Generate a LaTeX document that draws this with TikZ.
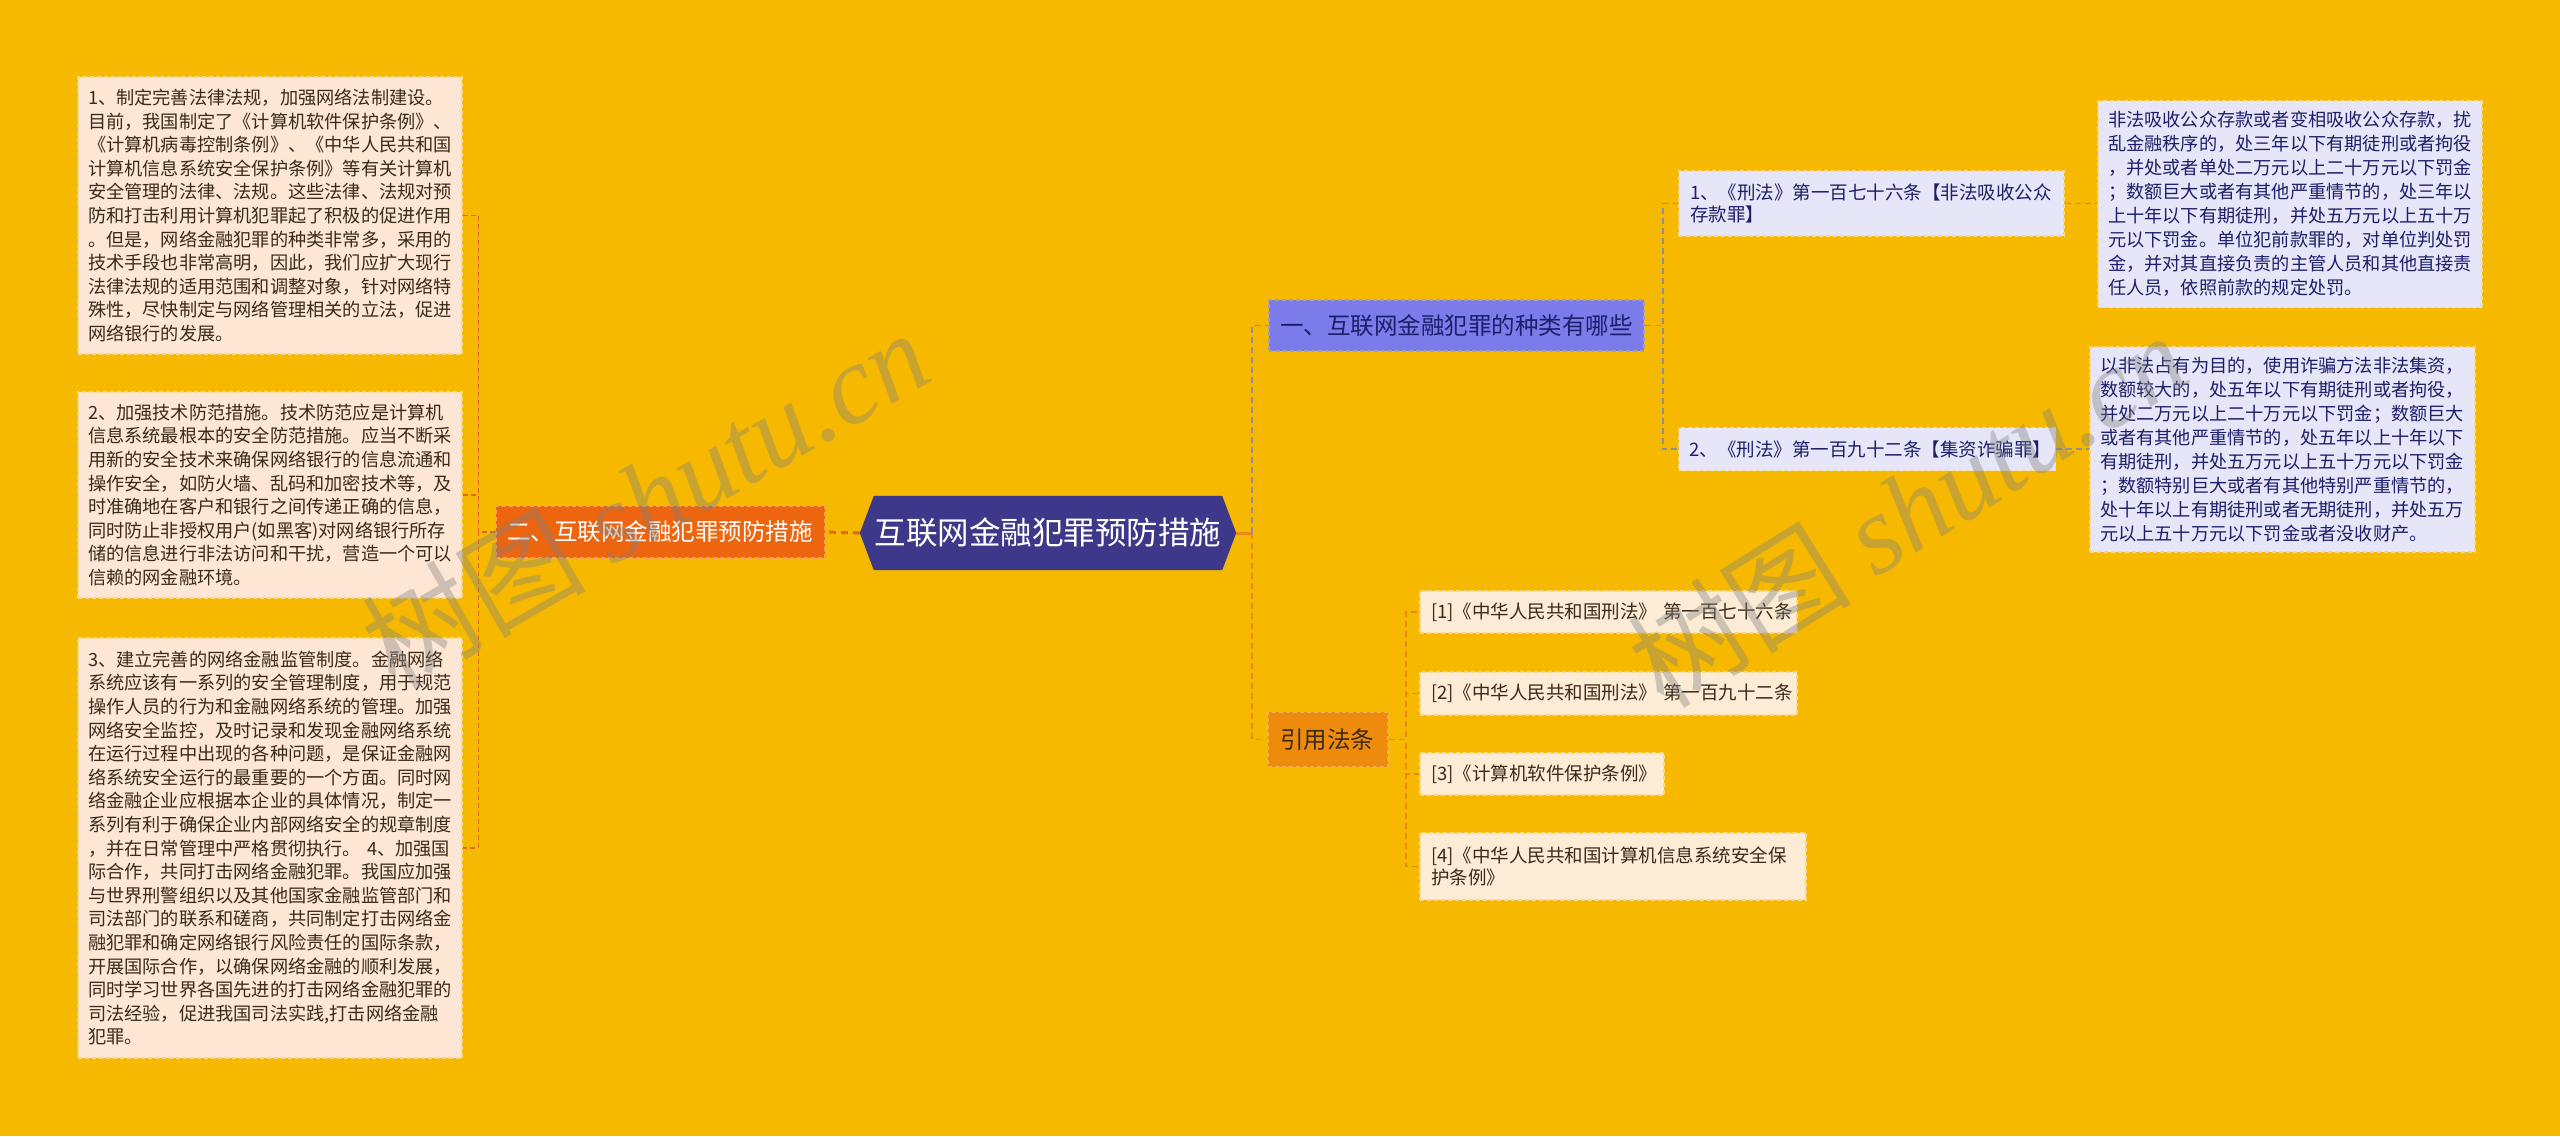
\documentclass[tikz,border=0pt]{standalone}
\usepackage{fontspec}
\setmainfont{Noto Sans CJK SC}
\newfontfamily\wmserif{Liberation Serif}
\usetikzlibrary{backgrounds}
\definecolor{bgc}{HTML}{F6B900}
\definecolor{rootc}{HTML}{3D3889}
\definecolor{lbc}{HTML}{EE650F}
\definecolor{lbline}{HTML}{F7A060}
\definecolor{peach}{HTML}{FDE6D4}
\definecolor{peachline}{HTML}{F8D88C}
\definecolor{browntxt}{HTML}{3A2A18}
\definecolor{bonec}{HTML}{7B7BEA}
\definecolor{boneline}{HTML}{9E9EC8}
\definecolor{lav}{HTML}{E6E6F8}
\definecolor{navytxt}{HTML}{1E1E6A}
\definecolor{yfc}{HTML}{EE8B0C}
\definecolor{yfline}{HTML}{F4AE50}
\definecolor{cream}{HTML}{FCEBD5}
\definecolor{lconnc}{HTML}{E2661C}
\definecolor{gconnc}{HTML}{8E8E9C}
\definecolor{oconnc}{HTML}{E98A18}
\newcommand{\fsText}{\fontsize{18.2pt}{23.6pt}\selectfont}
\newcommand{\fsTextR}{\fontsize{18.2pt}{24pt}\selectfont}
\newcommand{\fsMid}{\fontsize{23.5pt}{26pt}\selectfont}
\newcommand{\fsRoot}{\fontsize{31.5pt}{34pt}\selectfont}
\newcommand{\fsRef}{\fontsize{18.5pt}{22pt}\selectfont}
\begin{document}
\begin{tikzpicture}[x=1pt,y=-1pt,
  boxbase/.style={line width=1.5pt, dash pattern=on 4pt off 3pt, align=left, inner xsep=10pt, inner ysep=3pt, anchor=center},
  lbox/.style={boxbase, draw=peachline, fill=peach, text=browntxt, font=\fsText},
  rbox/.style={boxbase, draw=peachline, fill=lav, text=navytxt, font=\fsTextR},
  cbox/.style={boxbase, draw=peachline, fill=lav, text=navytxt, font=\fsRef, inner xsep=11pt},
  refbox/.style={boxbase, draw=peachline, fill=cream, text=browntxt, font=\fsRef, inner xsep=11pt},
  lbnode/.style={boxbase, draw=lbline, fill=lbc, text=white, font=\fsMid, inner xsep=11pt},
  bonenode/.style={boxbase, draw=boneline, fill=bonec, text=navytxt, font=\fsMid, inner xsep=11pt},
  yfnode/.style={boxbase, draw=yfline, fill=yfc, text=browntxt, font=\fsMid, inner xsep=12pt},
  lconn/.style={draw=lconnc, line width=1.5pt, dash pattern=on 5pt off 3pt},
  gconn/.style={draw=gconnc, line width=1.8pt, dash pattern=on 6pt off 4pt},
  oconn/.style={draw=oconnc, line width=1.8pt, dash pattern=on 6pt off 4pt},
  wm/.style={text=gray, opacity=0.38, font=\fontsize{112pt}{112pt}\selectfont}
]
\useasboundingbox (0,0) rectangle (2560,1136);
\begin{scope}[on background layer]
  \fill[bgc] (0,0) rectangle (2560,1136);
\end{scope}

% root
\node[minimum width=376pt, minimum height=74pt, inner sep=0pt, text=white, font=\fsRoot] (root) at (1048,533) {互联网金融犯罪预防措施};
\begin{scope}[on background layer]
  \fill[rootc] (root.west) -- ([xshift=14pt]root.north west) -- ([xshift=-14pt]root.north east) -- (root.east) -- ([xshift=-14pt]root.south east) -- ([xshift=14pt]root.south west) -- cycle;
\end{scope}

% left branch
\node[lbnode, text width=307pt, minimum height=52pt] (lb) at (660.5,532) {二、互联网金融犯罪预防措施};

\node[lbox, text width=364pt, minimum height=277pt] (t1) at (270,215.5) {1、制定完善法律法规，加强网络法制建设。\\目前，我国制定了《计算机软件保护条例》、\\《计算机病毒控制条例》、《中华人民共和国\\计算机信息系统安全保护条例》等有关计算机\\安全管理的法律、法规。这些法律、法规对预\\防和打击利用计算机犯罪起了积极的促进作用\\。但是，网络金融犯罪的种类非常多，采用的\\技术手段也非常高明，因此，我们应扩大现行\\法律法规的适用范围和调整对象，针对网络特\\殊性，尽快制定与网络管理相关的立法，促进\\网络银行的发展。};

\node[lbox, text width=364pt, minimum height=206pt] (t2) at (270,495) {2、加强技术防范措施。技术防范应是计算机\\信息系统最根本的安全防范措施。应当不断采\\用新的安全技术来确保网络银行的信息流通和\\操作安全，如防火墙、乱码和加密技术等，及\\时准确地在客户和银行之间传递正确的信息，\\同时防止非授权用户(如黑客)对网络银行所存\\储的信息进行非法访问和干扰，营造一个可以\\信赖的网金融环境。};

\node[lbox, text width=364pt, minimum height=420pt] (t3) at (270,848) {3、建立完善的网络金融监管制度。金融网络\\系统应该有一系列的安全管理制度，用于规范\\操作人员的行为和金融网络系统的管理。加强\\网络安全监控，及时记录和发现金融网络系统\\在运行过程中出现的各种问题，是保证金融网\\络系统安全运行的最重要的一个方面。同时网\\络金融企业应根据本企业的具体情况，制定一\\系列有利于确保企业内部网络安全的规章制度\\，并在日常管理中严格贯彻执行。~4、加强国\\际合作，共同打击网络金融犯罪。我国应加强\\与世界刑警组织以及其他国家金融监管部门和\\司法部门的联系和磋商，共同制定打击网络金\\融犯罪和确定网络银行风险责任的国际条款，\\开展国际合作，以确保网络金融的顺利发展，\\同时学习世界各国先进的打击网络金融犯罪的\\司法经验，促进我国司法实践,打击网络金融\\犯罪。};

% right branch 1
\node[bonenode, text width=353pt, minimum height=51pt] (b1) at (1456.5,325.5) {一、互联网金融犯罪的种类有哪些};

\node[cbox, text width=363pt, minimum height=65pt] (c1) at (1871.5,203.5) {1、《刑法》第一百七十六条【非法吸收公众\\存款罪】};
\node[cbox, text width=355pt, minimum height=43pt] (c2) at (1867,449) {2、《刑法》第一百九十二条【集资诈骗罪】};

\node[rbox, text width=364pt, minimum height=207pt] (tA) at (2290,204) {非法吸收公众存款或者变相吸收公众存款，扰\\乱金融秩序的，处三年以下有期徒刑或者拘役\\，并处或者单处二万元以上二十万元以下罚金\\；数额巨大或者有其他严重情节的，处三年以\\上十年以下有期徒刑，并处五万元以上五十万\\元以下罚金。单位犯前款罪的，对单位判处罚\\金，并对其直接负责的主管人员和其他直接责\\任人员，依照前款的规定处罚。};

\node[rbox, text width=365pt, minimum height=205pt] (tB) at (2282.5,449.5) {以非法占有为目的，使用诈骗方法非法集资，\\数额较大的，处五年以下有期徒刑或者拘役，\\并处二万元以上二十万元以下罚金；数额巨大\\或者有其他严重情节的，处五年以上十年以下\\有期徒刑，并处五万元以上五十万元以下罚金\\；数额特别巨大或者有其他特别严重情节的，\\处十年以上有期徒刑或者无期徒刑，并处五万\\元以上五十万元以下罚金或者没收财产。};

% right branch 2
\node[yfnode, text width=96pt, minimum height=55pt] (yf) at (1328,739.5) {引用法条};

\node[refbox, text width=355pt, minimum height=42pt] (r1) at (1608.5,612) {[1]《中华人民共和国刑法》~第一百七十六条};
\node[refbox, text width=355pt, minimum height=43pt] (r2) at (1608.5,693.5) {[2]《中华人民共和国刑法》~第一百九十二条};
\node[refbox, text width=222pt, minimum height=42pt] (r3) at (1542,774) {[3]《计算机软件保护条例》};
\node[refbox, text width=364pt, minimum height=67pt] (r4) at (1613,866.5) {[4]《中华人民共和国计算机信息系统安全保\\护条例》};

% connectors
\draw[draw=lconnc, line width=3pt, dash pattern=on 7pt off 5pt] (root.west) -- (lb.east);
\draw[lconn] (lb.west) -- ++(-17,0) |- (t1.east);
\draw[lconn] (lb.west) -- ++(-17,0) |- (t2.east);
\draw[lconn] (lb.west) -- ++(-17,0) |- (t3.east);

\draw[draw=oconnc, line width=3pt] (root.east) -- ++(16,0);
\draw[gconn] (root.east) ++(16,0) |- (b1.west);
\draw[oconn] (root.east) ++(16,0) |- (yf.west);

\draw[gconn] (b1.east) -- ++(18,0) |- (c1.west);
\draw[gconn] (b1.east) -- ++(18,0) |- (c2.west);
\draw[gconn] (c1.east) -- (c1.east -| tA.west);
\draw[gconn] (c2.east) -- (c2.east -| tB.west);

\draw[oconn] (yf.east) -- ++(17,0) |- (r1.west);
\draw[oconn] (yf.east) -- ++(17,0) |- (r2.west);
\draw[oconn] (yf.east) -- ++(17,0) |- (r3.west);
\draw[oconn] (yf.east) -- ++(17,0) |- (r4.west);

% watermarks
\node[wm, rotate=30] (wm1) at (645,498) {树图 {\wmserif\itshape shutu.cn}};
\node[wm, rotate=32] (wm2) at (1907,509) {树图 {\wmserif\itshape shutu.cn}};
\end{tikzpicture}
\end{document}
